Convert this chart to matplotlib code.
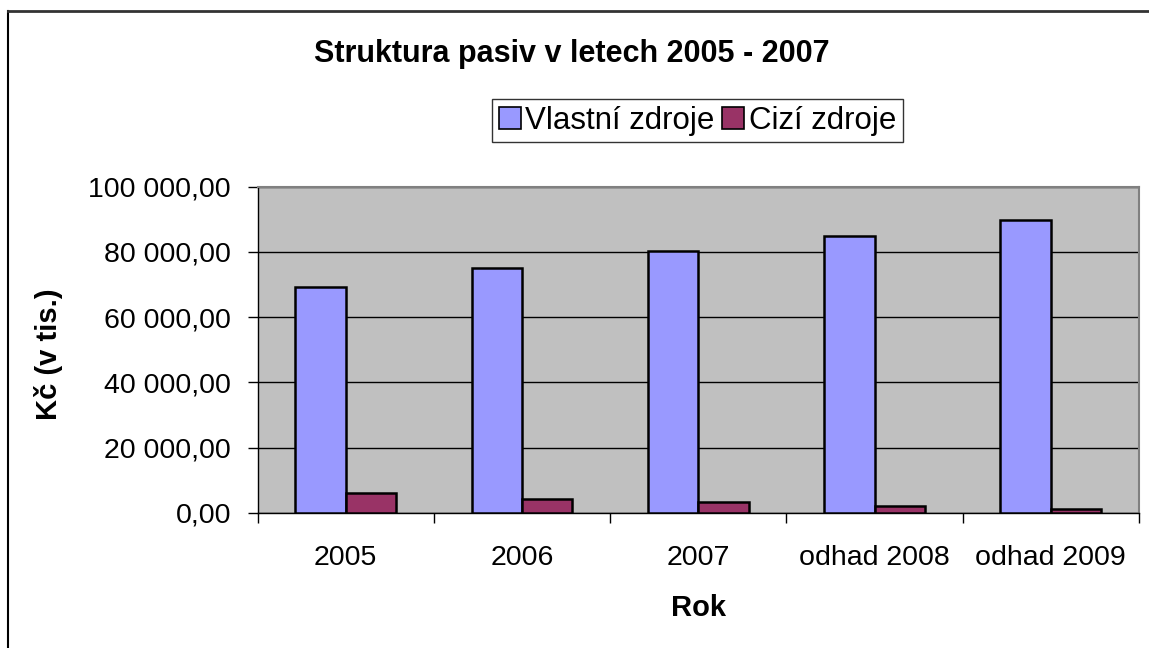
import matplotlib
matplotlib.use("Agg")
import matplotlib.pyplot as plt
import numpy as np
from matplotlib.lines import Line2D
from matplotlib.ticker import FuncFormatter, MultipleLocator

plt.rcParams["font.family"] = ["Liberation Sans", "DejaVu Sans"]

# Data
roky = ["2005", "2006", "2007", "odhad 2008", "odhad 2009"]
vlastni_zdroje = [69300, 75050, 80270, 84870, 89670]
cizi_zdroje = [6140, 4090, 3270, 2150, 1230]

W, H = 1149, 648
fig = plt.figure(figsize=(W / 100, H / 100), dpi=100)
fig.patch.set_facecolor("white")

ax = fig.add_axes([257.5 / W, 1 - 512.7 / H, (1139 - 257.5) / W, (512.7 - 186.7) / H])
ax.set_facecolor("#C0C0C0")

x = np.arange(len(roky))
sirka = 1 / 3.5
ax.bar(x - sirka / 2, vlastni_zdroje, width=sirka, color="#9999FF",
       edgecolor="black", linewidth=1.8, label="Vlastní zdroje", zorder=3)
ax.bar(x + sirka / 2, cizi_zdroje, width=sirka, color="#993366",
       edgecolor="black", linewidth=1.8, label="Cizí zdroje", zorder=3)

ax.set_xlim(-0.5, len(roky) - 0.5)
ax.set_ylim(0, 100000)

# osa y
ax.yaxis.set_major_locator(MultipleLocator(20000))
ax.yaxis.set_major_formatter(FuncFormatter(
    lambda v, p: f"{v:,.2f}".replace(",", " ").replace(".", ",")))
ax.yaxis.grid(True, color="black", linewidth=1, zorder=1)
ax.tick_params(axis="y", direction="out", length=7, width=1, pad=12,
               labelsize=20.5, color="black")

# osa x - popisky uprostred, carky mezi kategoriemi
ax.set_xticks(x)
ax.set_xticklabels(roky)
ax.set_xticks(np.arange(-0.5, len(roky), 1), minor=True)
ax.tick_params(axis="x", which="major", length=0, pad=23, labelsize=20.5)
ax.tick_params(axis="x", which="minor", direction="out", length=7, width=1, color="black")

for s in ["top", "right"]:
    ax.spines[s].set_color("#808080")
    ax.spines[s].set_linewidth(1.5)
for s in ["left", "bottom"]:
    ax.spines[s].set_color("black")
    ax.spines[s].set_linewidth(1)

ax.set_xlabel("Rok", fontsize=21, fontweight="bold", labelpad=17)
ax.set_ylabel("Kč (v tis.)", fontsize=21, fontweight="bold")
ax.yaxis.set_label_coords(63 / W, 1 - 354 / H, transform=fig.transFigure)

fig.text(572 / W, 1 - 54 / H, "Struktura pasiv v letech 2005 - 2007",
         ha="center", va="center", fontsize=22, fontweight="bold")

leg = fig.legend(loc="center", bbox_to_anchor=(697.5 / W, 1 - 120.5 / H), ncol=2,
                 fontsize=22.5, frameon=True, fancybox=False, edgecolor="black",
                 handlelength=0.7, handleheight=0.7, handletextpad=0.15,
                 columnspacing=0.25, borderpad=0.2, borderaxespad=0)
leg.get_frame().set_linewidth(1)
for h in leg.legend_handles:
    h.set_linewidth(1.2)

# ramecek grafu
fig.add_artist(Line2D([8 / W, 8 / W], [0, 1 - 11 / H], color="black", linewidth=1.5,
                      transform=fig.transFigure))
fig.add_artist(Line2D([8 / W, 1], [1 - 11 / H, 1 - 11 / H], color="#333333", linewidth=2,
                      transform=fig.transFigure))

fig.savefig("out.png", dpi=100)
